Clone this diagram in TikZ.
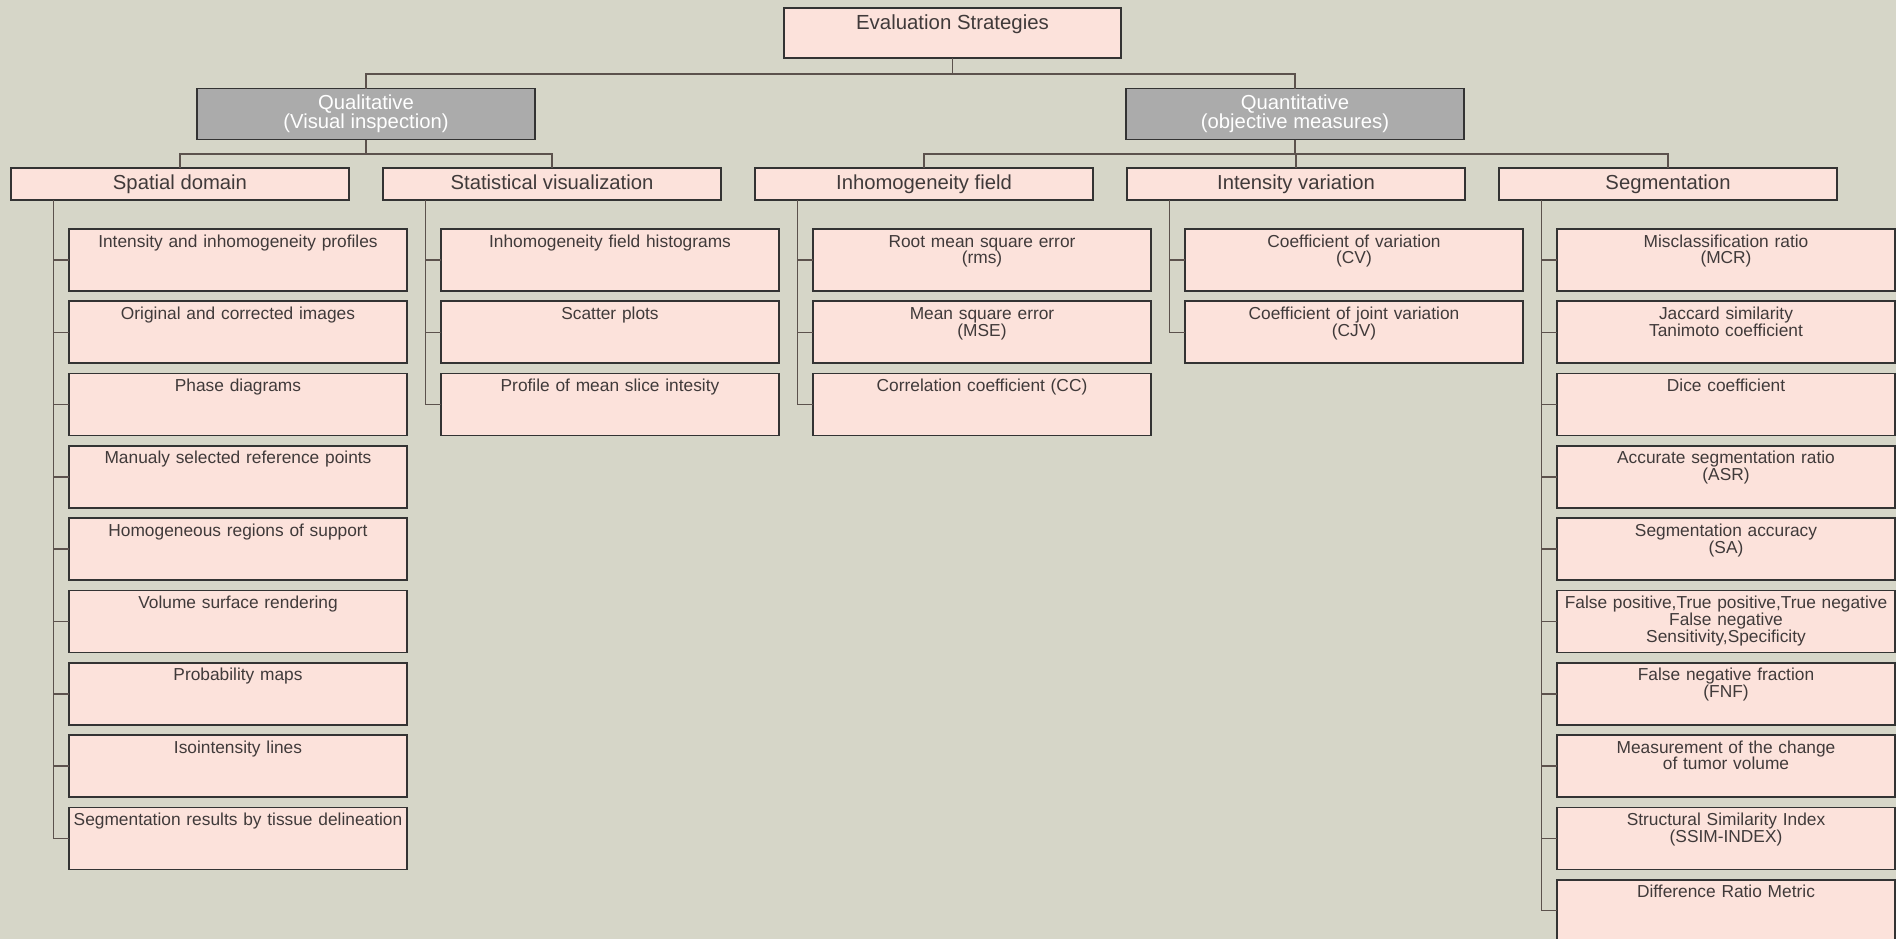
\documentclass[tikz,border=0pt]{standalone}
\usepackage{fontspec}
\setmainfont{Liberation Sans}
\usetikzlibrary{positioning}

\definecolor{paper}{HTML}{D6D6C8}
\definecolor{boxpink}{HTML}{FCE2DB}
\definecolor{boxgray}{HTML}{ABABAB}
\definecolor{ink}{HTML}{403A3A}
\definecolor{wire}{HTML}{5C524D}

\begin{document}
\begin{tikzpicture}[x=0.75pt, y=-0.75pt,
node distance = 7.725pt and 25.5pt,
every node/.style={outer sep=0pt},
root/.style={rectangle, draw=black!80, line width=1.3pt, fill=boxpink, text=ink, minimum width=253pt, inner sep=0pt, text height=15.75pt, text depth=21.75pt, font=\fontsize{15.3}{15}\selectfont},
group/.style={rectangle, draw=black!80, line width=1.3pt, fill=boxgray, text=white, minimum width=253.5pt, minimum height=38.25pt, inner sep=0pt, align=center, font=\fontsize{15.2}{14}\selectfont},
cat/.style={rectangle, draw=black!80, line width=1.3pt, fill=boxpink, text=ink, minimum width=253.5pt, inner sep=0pt, text height=16pt, text depth=8pt, font=\fontsize{15.2}{15}\selectfont},
leaf/.style={rectangle, draw=black!80, line width=1.3pt, fill=boxpink, text=ink, text width=252pt, align=center, inner xsep=0.75pt, inner ysep=0pt, text height=13.5pt, text depth=33pt, font=\fontsize{13}{12.6}\selectfont},
link/.style={draw=wire, line width=1.1pt}]

\useasboundingbox[fill=paper] (0,0) rectangle (1896,939);

\node[root] (eval) at (952.5,33) {Evaluation Strategies};
\node[group] (qual) at (366,114) {Qualitative\\(Visual inspection)};
\node[group] (quant) at (1295,114) {Quantitative\\(objective measures)};

\node[cat] (sp) at (180,184) {Spatial domain};
\node[cat] (st) [right = of sp] {Statistical visualization};
\node[cat] (ih) [right = of st] {Inhomogeneity field};
\node[cat] (iv) [right = of ih] {Intensity variation};
\node[cat] (sg) [right = of iv] {Segmentation};

% spatial domain
\node[leaf] (sp1) [below right = 21.75pt and -210pt of sp] {Intensity and inhomogeneity profiles};
\node[leaf] (sp2) [below = of sp1] {Original and corrected images};
\node[leaf] (sp3) [below = of sp2] {Phase diagrams};
\node[leaf] (sp4) [below = of sp3] {Manualy selected reference points};
\node[leaf] (sp5) [below = of sp4] {Homogeneous regions of support};
\node[leaf] (sp6) [below = of sp5] {Volume surface rendering};
\node[leaf] (sp7) [below = of sp6] {Probability maps};
\node[leaf] (sp8) [below = of sp7] {Isointensity lines};
\node[leaf] (sp9) [below = of sp8] {Segmentation results by tissue delineation};

% statistical visualization
\node[leaf] (st1) [below right = 21.75pt and -210pt of st] {Inhomogeneity field histograms};
\node[leaf] (st2) [below = of st1] {Scatter plots};
\node[leaf] (st3) [below = of st2] {Profile of mean slice intesity};

% inhomogeneity field
\node[leaf] (ih1) [below right = 21.75pt and -210pt of ih] {Root mean square error\\(rms)};
\node[leaf] (ih2) [below = of ih1] {Mean square error\\(MSE)};
\node[leaf] (ih3) [below = of ih2] {Correlation coefficient (CC)};

% intensity variation
\node[leaf] (iv1) [below right = 21.75pt and -210pt of iv] {Coefficient of variation\\(CV)};
\node[leaf] (iv2) [below = of iv1] {Coefficient of joint variation\\(CJV)};

% segmentation
\node[leaf] (sg1) [below right = 21.75pt and -210pt of sg] {Misclassification ratio\\(MCR)};
\node[leaf] (sg2) [below = of sg1] {Jaccard similarity\\Tanimoto coefficient};
\node[leaf] (sg3) [below = of sg2] {Dice coefficient};
\node[leaf] (sg4) [below = of sg3] {Accurate segmentation ratio\\(ASR)};
\node[leaf] (sg5) [below = of sg4] {Segmentation accuracy\\(SA)};
\node[leaf] (sg6) [below = of sg5] {False positive,True positive,True negative\\False negative\\Sensitivity,Specificity};
\node[leaf] (sg7) [below = of sg6] {False negative fraction\\(FNF)};
\node[leaf] (sg8) [below = of sg7] {Measurement of the change\\of tumor volume};
\node[leaf] (sg9) [below = of sg8] {Structural Similarity Index\\(SSIM-INDEX)};
\node[leaf] (sg10) [below = of sg9] {Difference Ratio Metric};

\draw[link] (eval.south) -- ++(0,16) -| (qual.north);
\draw[link] (eval.south) -- ++(0,16) -| (quant.north);

\draw[link] (qual.south) -- ++(0,14.5) -| (sp.north);
\draw[link] (qual.south) -- ++(0,14.5) -| (st.north);
\draw[link] (quant.south) -- ++(0,14.5) -| (ih.north);
\draw[link] (quant.south) -- ++(0,14.5) -| (iv.north);
\draw[link] (quant.south) -- ++(0,14.5) -| (sg.north);

\foreach \i in {1,...,9} \draw[link] ([xshift=31.9pt]sp.south west) |- (sp\i.west);
\foreach \i in {1,...,3} \draw[link] ([xshift=31.9pt]st.south west) |- (st\i.west);
\foreach \i in {1,...,3} \draw[link] ([xshift=31.9pt]ih.south west) |- (ih\i.west);
\foreach \i in {1,2} \draw[link] ([xshift=31.9pt]iv.south west) |- (iv\i.west);
\foreach \i in {1,...,10} \draw[link] ([xshift=31.9pt]sg.south west) |- (sg\i.west);
\end{tikzpicture}
\end{document}
